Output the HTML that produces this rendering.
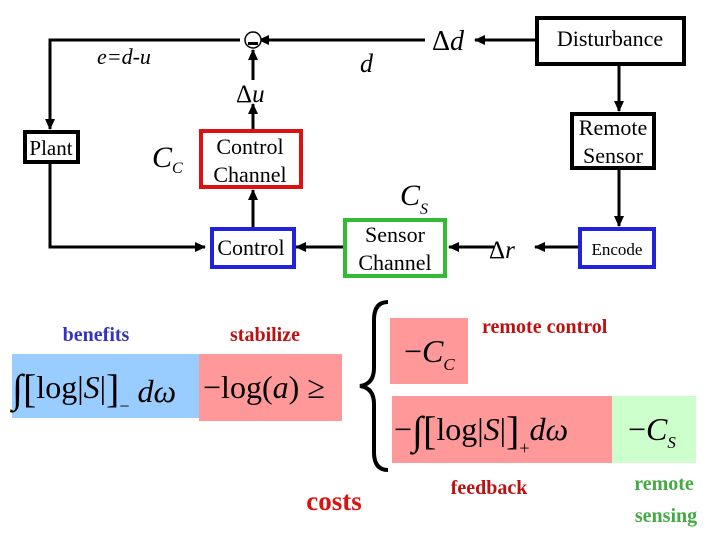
<!DOCTYPE html>
<html><head><meta charset="utf-8"><style>
html,body{margin:0;padding:0;background:#fff;}
svg{display:block;font-family:"Liberation Serif",serif;}
</style></head><body>
<svg width="720" height="540" viewBox="0 0 720 540" xmlns="http://www.w3.org/2000/svg">
<defs>
<marker id="a" markerWidth="11" markerHeight="10" refX="10" refY="5" orient="auto" markerUnits="userSpaceOnUse"><path d="M0,0 L11,5 L0,10 z" fill="#000"/></marker>
</defs>
<g stroke="#000" stroke-width="3" fill="none">
<polyline points="240,40 50,40 50,129" marker-end="url(#a)"/>
<polyline points="50,163 50,247 205,247" marker-end="url(#a)"/>
<line x1="536" y1="40" x2="475" y2="40" marker-end="url(#a)"/>
<line x1="425" y1="40" x2="259" y2="40" marker-end="url(#a)"/>
<line x1="253" y1="80" x2="253" y2="50" marker-end="url(#a)"/>
<line x1="253" y1="130" x2="253" y2="104" marker-end="url(#a)"/>
<line x1="253" y1="228" x2="253" y2="190" marker-end="url(#a)"/>
<line x1="619" y1="64" x2="619" y2="111" marker-end="url(#a)"/>
<line x1="619" y1="168" x2="619" y2="226" marker-end="url(#a)"/>
<line x1="578" y1="247" x2="535" y2="247" marker-end="url(#a)"/>
<line x1="494" y1="247" x2="449" y2="247" marker-end="url(#a)"/>
<line x1="343" y1="247" x2="296" y2="247" marker-end="url(#a)"/>
</g>
<circle cx="253" cy="40" r="8" fill="#fff" stroke="#000" stroke-width="1.5"/>
<rect x="248" y="42" width="10" height="3" fill="#000"/>
<rect x="537" y="18" width="147" height="46" fill="#fff" stroke="#000" stroke-width="4"/>
<text x="610" y="46" font-size="22" text-anchor="middle">Disturbance</text>
<rect x="572" y="114" width="82" height="54" fill="#fff" stroke="#000" stroke-width="4"/>
<text x="613" y="135" font-size="22" text-anchor="middle">Remote</text>
<text x="613" y="163" font-size="22" text-anchor="middle">Sensor</text>
<rect x="580" y="229" width="74" height="38" fill="#fff" stroke="#2222dd" stroke-width="4"/>
<text x="617" y="255" font-size="17" text-anchor="middle">Encode</text>
<rect x="345" y="220" width="100" height="56" fill="#fff" stroke="#33bb33" stroke-width="4"/>
<text x="395" y="242" font-size="22" text-anchor="middle">Sensor</text>
<text x="395" y="270" font-size="22" text-anchor="middle">Channel</text>
<rect x="212" y="229" width="82" height="38" fill="#fff" stroke="#2222dd" stroke-width="4"/>
<text x="251" y="255" font-size="22" text-anchor="middle">Control</text>
<rect x="201" y="131" width="100" height="56" fill="#fff" stroke="#dd1111" stroke-width="4"/>
<text x="250" y="154" font-size="22" text-anchor="middle">Control</text>
<text x="250" y="182" font-size="22" text-anchor="middle">Channel</text>
<rect x="25" y="132" width="53" height="30" fill="#fff" stroke="#000" stroke-width="4"/>
<text x="51" y="155" font-size="21" text-anchor="middle">Plant</text>
<g font-style="italic">
<text x="97" y="64" font-size="22">e=d-u</text>
<text x="360" y="72" font-size="26">d</text>
<text x="432" y="50" font-size="28"><tspan font-style="normal">Δ</tspan>d</text>
<text x="236" y="102" font-size="25"><tspan font-style="normal">Δ</tspan>u</text>
<text x="152" y="167" font-size="30">C<tspan font-size="16" dy="6">C</tspan></text>
<text x="400" y="205" font-size="30">C<tspan font-size="16" dy="9">S</tspan></text>
<text x="489" y="258" font-size="25"><tspan font-style="normal">Δ</tspan>r</text>
</g>
<rect x="12" y="354" width="187" height="64" fill="#99ccff"/>
<rect x="199" y="354" width="143" height="67" fill="#ff9999"/>
<rect x="390" y="318" width="78" height="66" fill="#ff9999"/>
<rect x="392" y="396" width="220" height="67" fill="#ff9999"/>
<rect x="612" y="396" width="84" height="67" fill="#ccffcc"/>
<path d="M388,302 Q374,302 374,320 L374,368 Q374,384 360,386 Q374,388 374,404 L374,452 Q374,470 388,470" fill="none" stroke="#000" stroke-width="4"/>
<g font-weight="bold">
<text x="96" y="341" font-size="20" fill="#3333bb" text-anchor="middle">benefits</text>
<text x="265" y="341" font-size="20" fill="#bb1111" text-anchor="middle">stabilize</text>
<text x="482" y="333" font-size="20" fill="#bb1111">remote control</text>
<text x="489" y="494" font-size="20" fill="#bb1111" text-anchor="middle">feedback</text>
<text x="334" y="510" font-size="27" fill="#dd1111" text-anchor="middle">costs</text>
<text x="664" y="490" font-size="20" fill="#44aa44" text-anchor="middle">remote</text>
<text x="666" y="522" font-size="20" fill="#44aa44" text-anchor="middle">sensing</text>
</g>
<g font-size="32">
<text x="12" y="398"><tspan font-size="40" dy="4">∫</tspan><tspan font-size="40" dy="0">[</tspan><tspan dy="-4">log|</tspan><tspan font-style="italic">S</tspan>|<tspan font-size="40" dy="4">]</tspan><tspan font-size="18" dy="10">−</tspan><tspan dy="-10" font-style="italic"> d</tspan><tspan font-style="italic">ω</tspan></text>
<text x="203" y="398">−log(<tspan font-style="italic">a</tspan>) ≥</text>
<text x="404" y="362">−<tspan font-style="italic">C</tspan><tspan font-size="17" dy="8" font-style="italic">C</tspan></text>
<text x="394" y="440">−<tspan font-size="40" dy="4">∫</tspan><tspan font-size="40">[</tspan><tspan dy="-4">log|</tspan><tspan font-style="italic">S</tspan>|<tspan font-size="40" dy="4">]</tspan><tspan font-size="18" dy="10">+</tspan><tspan dy="-14" font-style="italic">dω</tspan></text>
<text x="628" y="440">−<tspan font-style="italic">C</tspan><tspan font-size="17" dy="8" font-style="italic">S</tspan></text>
</g>
</svg>
</body></html>
